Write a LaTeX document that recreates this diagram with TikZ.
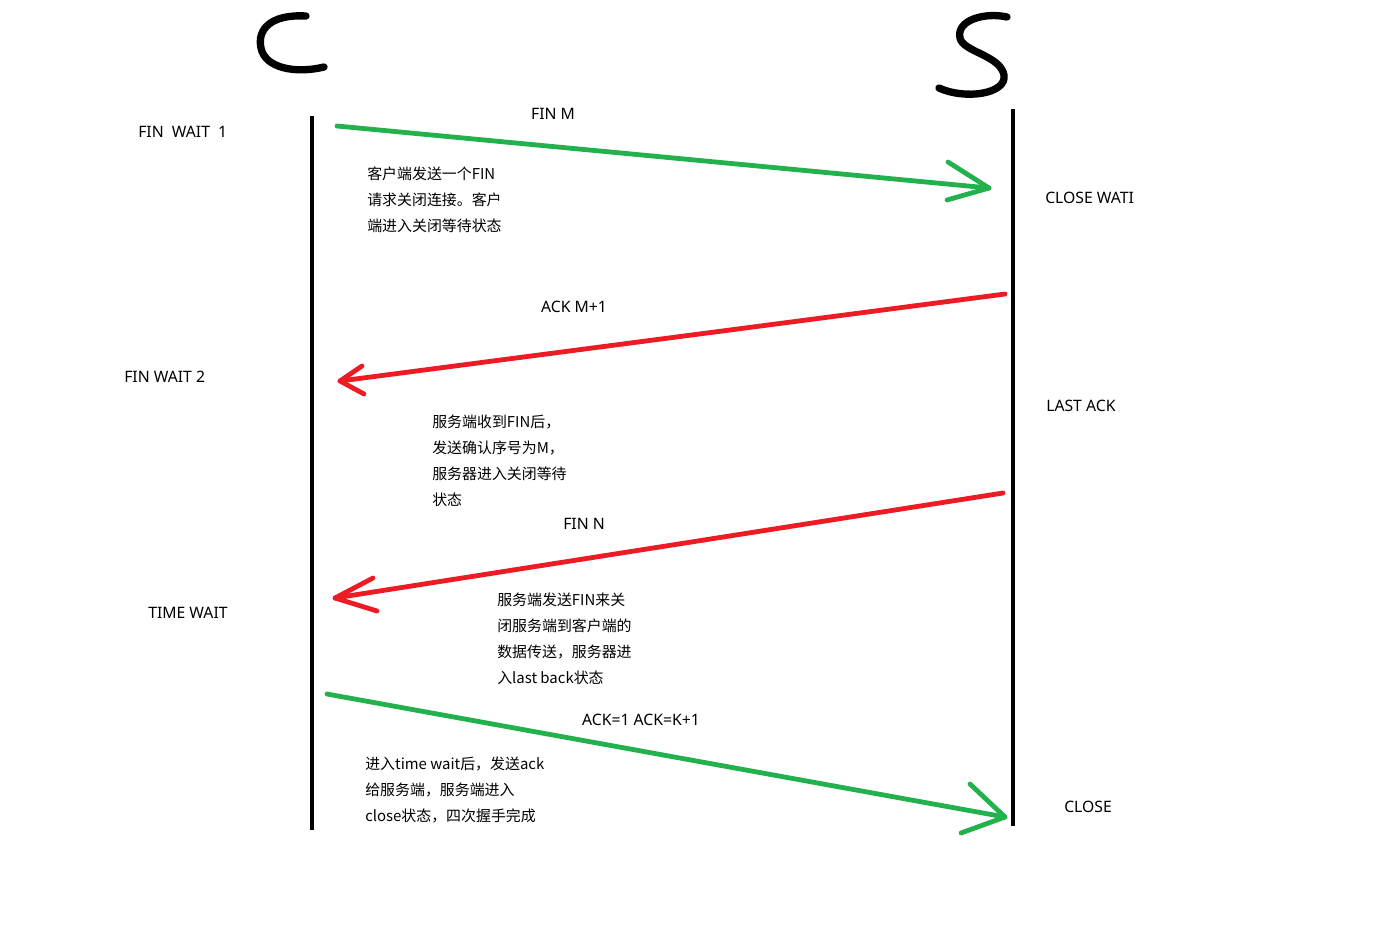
\documentclass[tikz,border=0pt]{standalone}
\usepackage{fontspec}
\setmainfont{Noto Sans CJK SC}
\newfontfamily\latinfont{Noto Sans}
\begin{document}
\begin{tikzpicture}[x=0.75pt,y=-0.75pt,
  lbl/.style={inner sep=0pt,font=\latinfont\fontsize{11.8}{13}\selectfont},
  blk/.style={inner sep=0pt,align=left,anchor=north west,font=\fontsize{11.2}{19.5}\selectfont},
  life/.style={line width=3.2pt},
  grn/.style={draw={rgb,255:red,34;green,177;blue,76},line width=3.6pt,line cap=round,line join=round},
  rd/.style={draw={rgb,255:red,237;green,28;blue,36},line width=3.6pt,line cap=round,line join=round},
  hand/.style={line width=5.5pt,line cap=round}]
\useasboundingbox (0,0) rectangle (1381,951);
% letters
\draw[hand] (306,16) .. controls (270,14) and (257,30) .. (261,48)
  .. controls (265,68) and (295,74) .. (324,67);
\draw[hand] (1007,17) .. controls (985,12) and (956,20) .. (960,38)
  .. controls (963,52) and (1000,55) .. (1004,75)
  .. controls (1007,94) and (965,100) .. (939,88);
% lifelines
\coordinate (c1) at (312,116);
\coordinate (c2) at (312,830);
\coordinate (s1) at (1013,109);
\coordinate (s2) at (1013,826);
\draw[life] (c1) -- (c2);
\draw[life] (s1) -- (s2);
% arrow 1
\coordinate (a1s) at (337,126);
\coordinate (a1e) at (989,188);
\coordinate (a1u) at (948,162);
\coordinate (a1d) at (947,200);
\draw[grn] (a1s) -- (a1e);
\draw[grn] (a1u) -- (a1e) -- (a1d);
% arrow 2
\coordinate (a2s) at (1005,294);
\coordinate (a2e) at (340,381);
\coordinate (a2u) at (362,366);
\coordinate (a2d) at (364,394);
\draw[rd] (a2s) -- (a2e);
\draw[rd] (a2u) -- (a2e) -- (a2d);
% arrow 3
\coordinate (a3s) at (1003,493);
\coordinate (a3e) at (335,598);
\coordinate (a3u) at (373,578);
\coordinate (a3d) at (377,611);
\draw[rd] (a3s) -- (a3e);
\draw[rd] (a3u) -- (a3e) -- (a3d);
% arrow 4
\coordinate (a4s) at (327,694);
\coordinate (a4e) at (1005,817);
\coordinate (a4u) at (970,784);
\coordinate (a4d) at (961,833);
\draw[grn] (a4s) -- (a4e);
\draw[grn] (a4u) -- (a4e) -- (a4d);
% state labels
\node[lbl,anchor=west] (fw1) at (138,132) {FIN\ \ WAIT\ \ 1};
\node[lbl,anchor=west] (fw2) at (124,377) {FIN WAIT 2};
\node[lbl,anchor=west] (tw) at (148,613) {TIME WAIT};
\node[lbl,anchor=west] (cw) at (1045,198) {CLOSE WATI};
\node[lbl,anchor=west] (la) at (1046,406) {LAST ACK};
\node[lbl,anchor=west] (cl) at (1064,807) {CLOSE};
% message labels
\node[lbl] (m1) at (553,114) {FIN M};
\node[lbl] (m2) at (574,307) {ACK M+1};
\node[lbl] (m3) at (584,524) {FIN N};
\node[lbl] (m4) at (641,720) {ACK=1 ACK=K+1};
% descriptions
\node[blk] (d1) at (367,167) {客户端发送一个FIN\\请求关闭连接。客户\\端进入关闭等待状态};
\node[blk] (d2) at (432,415) {服务端收到FIN后，\\发送确认序号为M，\\服务器进入关闭等待\\状态};
\node[blk] (d3) at (497,593) {服务端发送FIN来关\\闭服务端到客户端的\\数据传送，服务器进\\入last back状态};
\node[blk] (d4) at (365,757) {进入time wait后，发送ack\\给服务端，服务端进入\\close状态，四次握手完成};
\end{tikzpicture}
\end{document}
